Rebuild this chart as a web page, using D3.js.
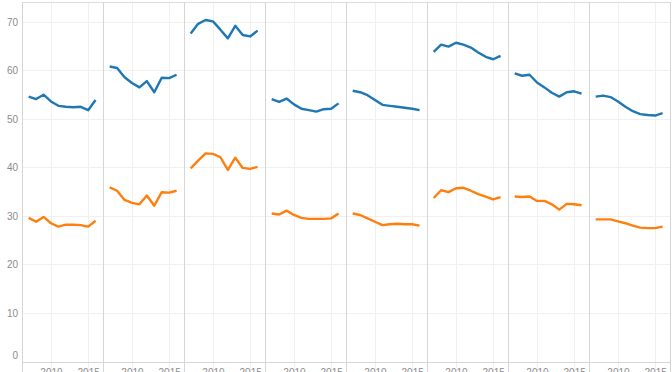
<!DOCTYPE html>
<html>
<head>
<meta charset="utf-8">
<script src="https://cdn.jsdelivr.net/npm/d3@7"></script>
<style>
  body { margin: 0; background: #fff; }
  svg { display: block; font-family: "Open Sans", "Noto Sans", sans-serif; }
  .tick text { fill: #8c8c8c; font-size: 10px; }
</style>
</head>
<body>
<svg id="chart"></svg>
<script>
var years = [2007, 2008, 2009, 2010, 2011, 2012, 2013, 2014, 2015, 2016];
var panels = ["p1", "p2", "p3", "p4", "p5", "p6", "p7", "p8"];
var yTicks = [0, 10, 20, 30, 40, 50, 60, 70];
var xTicks = [2010, 2015];

var blue1 = [54.6, 54.1, 55.0, 53.6, 52.7, 52.5, 52.4, 52.5, 51.8, 53.9];
var blue2 = [60.8, 60.5, 58.6, 57.4, 56.5, 57.8, 55.5, 58.5, 58.4, 59.1];
var blue3 = [67.6, 69.6, 70.4, 70.1, 68.4, 66.6, 69.2, 67.3, 67.0, 68.2];
var blue4 = [54.1, 53.5, 54.2, 53.0, 52.1, 51.8, 51.5, 52.0, 52.1, 53.2];
var blue5 = [55.8, 55.5, 54.9, 53.9, 52.9, 52.7, 52.5, 52.3, 52.1, 51.8];
var blue6 = [63.8, 65.3, 64.9, 65.7, 65.3, 64.7, 63.7, 62.8, 62.3, 63.0];
var blue7 = [59.4, 58.9, 59.1, 57.5, 56.5, 55.4, 54.6, 55.5, 55.7, 55.2];
var blue8 = [54.6, 54.8, 54.5, 53.6, 52.5, 51.6, 51.0, 50.8, 50.7, 51.2];

var orange1 = [29.6, 28.8, 29.8, 28.5, 27.8, 28.2, 28.2, 28.1, 27.8, 29.0];
var orange2 = [35.9, 35.2, 33.3, 32.7, 32.4, 34.2, 32.1, 34.9, 34.8, 35.2];
var orange3 = [39.8, 41.4, 42.9, 42.8, 42.1, 39.5, 42.0, 39.9, 39.7, 40.1];
var orange4 = [30.5, 30.3, 31.1, 30.2, 29.6, 29.4, 29.4, 29.4, 29.5, 30.5];
var orange5 = [30.5, 30.2, 29.5, 28.8, 28.1, 28.3, 28.4, 28.3, 28.3, 28.0];
var orange6 = [33.7, 35.3, 34.9, 35.7, 35.8, 35.2, 34.5, 34.0, 33.4, 33.9];
var orange7 = [34.0, 33.9, 34.0, 33.1, 33.1, 32.4, 31.3, 32.5, 32.4, 32.2];
var orange8 = [29.3, 29.3, 29.3, 28.9, 28.5, 28.0, 27.6, 27.5, 27.5, 27.8];

var blueSeries = [blue1, blue2, blue3, blue4, blue5, blue6, blue7, blue8];
var orangeSeries = [orange1, orange2, orange3, orange4, orange5, orange6, orange7, orange8];

var width = 672;
var height = 372;
var margin = { "top": 2, "right": 2, "bottom": 10.5, "left": 22 };

var svg = d3.select("#chart")
  .attr("width", width)
  .attr("height", height);

var panelX = d3.scaleBand()
  .domain(panels)
  .range([margin.left, width - margin.right])
  .padding(0);

var x = d3.scaleLinear()
  .domain([2006.1, 2017.0])
  .range([0, panelX.bandwidth()]);

var y = d3.scaleLinear()
  .domain([0, 74.1])
  .range([height - margin.bottom, margin.top]);

// horizontal grid
svg.append("g")
  .selectAll("line")
  .data(yTicks)
  .enter()
  .append("line")
  .attr("x1", margin.left)
  .attr("x2", width - margin.right)
  .attr("y1", function (d) { return Math.round(y(d)) + 0.5; })
  .attr("y2", function (d) { return Math.round(y(d)) + 0.5; })
  .attr("stroke", "#f0f0f0");

// y axis labels
var yAxis = svg.append("g")
  .attr("transform", "translate(" + (margin.left - 4) + ",0)")
  .call(d3.axisLeft(y).tickValues(yTicks).tickSize(0).tickPadding(0));
yAxis.select(".domain").remove();
yAxis.selectAll(".tick text")
  .attr("dy", function (d) { return d === 0 ? "-0.3em" : "0.32em"; });

var panel = svg.selectAll(".panel")
  .data(panels)
  .enter()
  .append("g")
  .attr("class", "panel")
  .attr("transform", function (d) { return "translate(" + panelX(d) + ",0)"; });

// vertical grid inside panels
panel.selectAll(".vgrid")
  .data(xTicks)
  .enter()
  .append("line")
  .attr("class", "vgrid")
  .attr("x1", function (d) { return Math.round(x(d)) + 0.5; })
  .attr("x2", function (d) { return Math.round(x(d)) + 0.5; })
  .attr("y1", margin.top)
  .attr("y2", height)
  .attr("stroke", "#f0f0f0");

// x axis per panel
panel.each(function () {
  var g = d3.select(this).append("g")
    .attr("transform", "translate(0," + (height - margin.bottom) + ")")
    .call(d3.axisBottom(x).tickValues(xTicks).tickFormat(d3.format("d")).tickSize(0).tickPadding(7));
  g.select(".domain").remove();
});

// zero line
svg.append("line")
  .attr("x1", margin.left)
  .attr("x2", width - margin.right)
  .attr("y1", Math.round(y(0)) + 0.5)
  .attr("y2", Math.round(y(0)) + 0.5)
  .attr("stroke", "#d6d6d6");

// top border
svg.append("line")
  .attr("x1", margin.left)
  .attr("x2", width - margin.right)
  .attr("y1", margin.top + 0.5)
  .attr("y2", margin.top + 0.5)
  .attr("stroke", "#dcdcdc");

// panel dividers
var edges = panels.map(function (d) { return panelX(d); }).concat([width - margin.right]);
svg.append("g")
  .selectAll("line")
  .data(edges)
  .enter()
  .append("line")
  .attr("x1", function (d) { return Math.round(d) + 0.5; })
  .attr("x2", function (d) { return Math.round(d) + 0.5; })
  .attr("y1", margin.top)
  .attr("y2", height)
  .attr("stroke", "#d6d6d6");

var line = d3.line()
  .x(function (d, i) { return x(years[i]); })
  .y(function (d) { return y(d); });

panel.append("path")
  .attr("d", function (d, i) { return line(orangeSeries[i]); })
  .attr("fill", "none")
  .attr("stroke", "#ff7f0e")
  .attr("stroke-width", 2.4)
  .attr("stroke-linejoin", "round");

panel.append("path")
  .attr("d", function (d, i) { return line(blueSeries[i]); })
  .attr("fill", "none")
  .attr("stroke", "#1f77b4")
  .attr("stroke-width", 2.4)
  .attr("stroke-linejoin", "round");
</script>
</body>
</html>
